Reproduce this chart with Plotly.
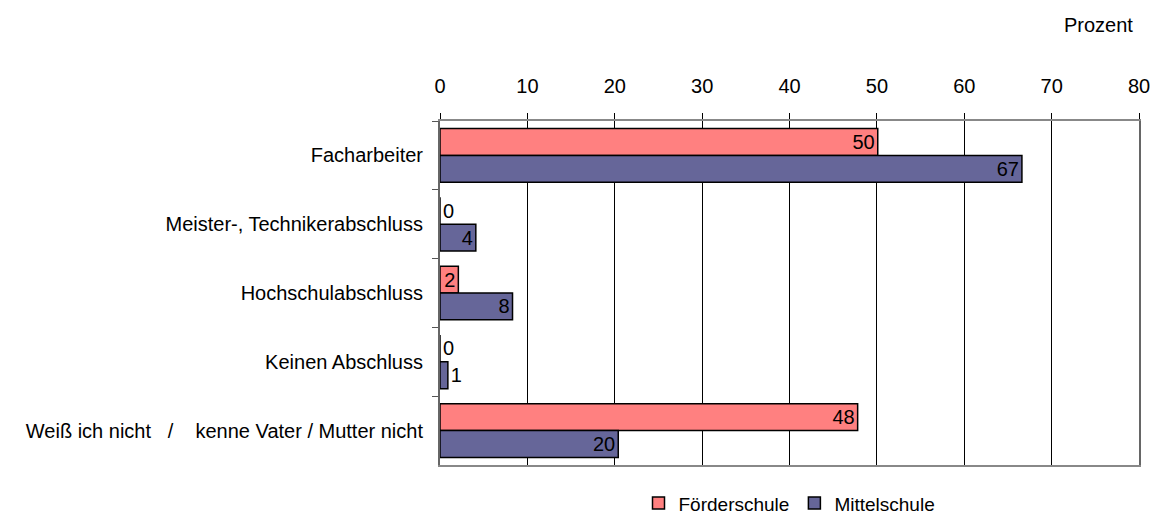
import plotly.graph_objects as go

NB = "\u00a0"
categories = [
    "Facharbeiter",
    "Meister-, Technikerabschluss",
    "Hochschulabschluss",
    "Keinen Abschluss",
    "Weiß ich nicht" + NB * 3 + "/" + NB * 4 + "kenne Vater / Mutter nicht",
]
foerderschule = [50.1, 0, 2.1, 0, 47.8]
mittelschule = [66.6, 4.1, 8.3, 0.9, 20.4]
x_ticks = [0, 10, 20, 30, 40, 50, 60, 70, 80]

FONT = "Liberation Sans, Arial, sans-serif"
FS = 20


def positions(vals):
    return ["outside" if v < 1.5 else "inside" for v in vals]


fig = go.Figure()
for name, vals, color in [
    ("Förderschule", foerderschule, "#FF8080"),
    ("Mittelschule", mittelschule, "#666699"),
]:
    fig.add_trace(go.Bar(
        name=name, y=categories, x=vals, orientation="h",
        marker=dict(color=color, line=dict(color="black", width=1.5)),
        texttemplate="%{x:.0f}", textposition=positions(vals),
        insidetextanchor="end", constraintext="none", textangle=0,
        cliponaxis=False,
        textfont=dict(color="black", size=FS, family=FONT),
    ))

fig.update_layout(
    width=1154, height=516,
    paper_bgcolor="white", plot_bgcolor="white",
    margin=dict(l=440, r=15, t=121, b=51, autoexpand=False),
    barmode="group", bargap=0.22, bargroupgap=0,
    font=dict(family=FONT, size=FS, color="black"),
    showlegend=True,
    legend=dict(orientation="h", x=0.5, xanchor="center", y=-0.056, yanchor="top",
                traceorder="normal", font=dict(size=19), itemwidth=30,
                tracegroupgap=0, itemclick=False),
    annotations=[dict(text="Prozent", xref="paper", yref="paper", x=1.0, y=1.0,
                      yshift=96, xanchor="right", yanchor="middle", showarrow=False,
                      font=dict(size=FS), xshift=-4)],
)
fig.update_xaxes(
    side="top", range=[0, 80], tickvals=x_ticks, ticks="outside", ticklen=6,
    tickcolor="black", showgrid=True, gridcolor="black", gridwidth=1,
    showline=True, linecolor="#888888", linewidth=2, mirror=True,
    tickfont=dict(size=FS), ticklabelstandoff=12, zeroline=False,
    fixedrange=True, automargin=False,
)
fig.update_yaxes(
    autorange="reversed", tickson="boundaries", ticks="outside", ticklen=6,
    tickcolor="#555555", showline=True, linecolor="#666666", linewidth=2,
    mirror=True, tickfont=dict(size=FS), ticklabelstandoff=11, fixedrange=True,
    automargin=False,
)

fig.write_html(
    "out.html",
    config={"displayModeBar": False},
    post_script="document.body.style.margin='0';document.body.style.overflow='hidden';",
)
